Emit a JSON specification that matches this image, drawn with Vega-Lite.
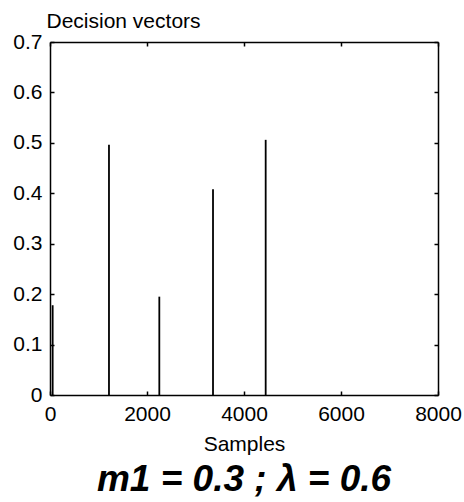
{
  "$schema": "https://vega.github.io/schema/vega-lite/v6.json",
  "width": 388,
  "height": 353,
  "autosize": "none",
  "padding": {"left": 50, "top": 42, "right": 26, "bottom": 107},
  "background": "white",
  "config": {
    "view": {"stroke": null},
    "font": "Liberation Sans",
    "axis": {
      "domainColor": "black",
      "domainWidth": 1.5,
      "tickColor": "black",
      "tickWidth": 1.5,
      "tickSize": -4,
      "grid": false,
      "labelColor": "black",
      "labelFont": "Liberation Sans",
      "labelFontSize": 21,
      "titleColor": "black",
      "titleFont": "Liberation Sans",
      "titleFontSize": 21,
      "titleFontWeight": "normal"
    }
  },
  "title": {
    "text": "m1 = 0.3 ; λ = 0.6",
    "orient": "bottom",
    "anchor": "middle",
    "font": "Liberation Sans",
    "fontSize": 37,
    "fontStyle": "italic",
    "fontWeight": "bold",
    "color": "black",
    "offset": 8
  },
  "data": {
    "values": [
      {"sample": 55, "value": 0.178},
      {"sample": 1216, "value": 0.496},
      {"sample": 2254, "value": 0.195},
      {"sample": 3361, "value": 0.408},
      {"sample": 4447, "value": 0.506}
    ]
  },
  "layer": [
    {
      "mark": {"type": "rule", "color": "black", "strokeWidth": 1.8},
      "encoding": {
        "x": {
          "field": "sample",
          "type": "quantitative",
          "scale": {"domain": [0, 8000], "nice": false},
          "axis": {
            "orient": "bottom",
            "values": [0, 2000, 4000, 6000, 8000],
            "format": "d",
            "labelPadding": 12,
            "labelFlush": false,
            "title": "Samples",
            "titleY": 55,
            "titleBaseline": "alphabetic"
          }
        },
        "y": {
          "field": "value",
          "type": "quantitative",
          "scale": {"domain": [0, 0.7], "nice": false},
          "axis": {
            "orient": "left",
            "values": [0, 0.1, 0.2, 0.3, 0.4, 0.5, 0.6, 0.7],
            "format": "~g",
            "labelPadding": 12,
            "labelFlush": false,
            "title": "Decision vectors",
            "titleAngle": 0,
            "titleAlign": "left",
            "titleBaseline": "alphabetic",
            "titleX": -4,
            "titleY": -15
          }
        },
        "y2": {"datum": 0}
      }
    },
    {
      "mark": {"type": "rule", "opacity": 0},
      "encoding": {
        "x": {
          "field": "sample",
          "type": "quantitative",
          "axis": {
            "orient": "top",
            "values": [0, 2000, 4000, 6000, 8000],
            "labels": false,
            "title": null
          }
        },
        "y": {
          "field": "value",
          "type": "quantitative",
          "axis": {
            "orient": "right",
            "values": [0, 0.1, 0.2, 0.3, 0.4, 0.5, 0.6, 0.7],
            "labels": false,
            "title": null
          }
        }
      }
    }
  ],
  "resolve": {"axis": {"x": "independent", "y": "independent"}}
}
